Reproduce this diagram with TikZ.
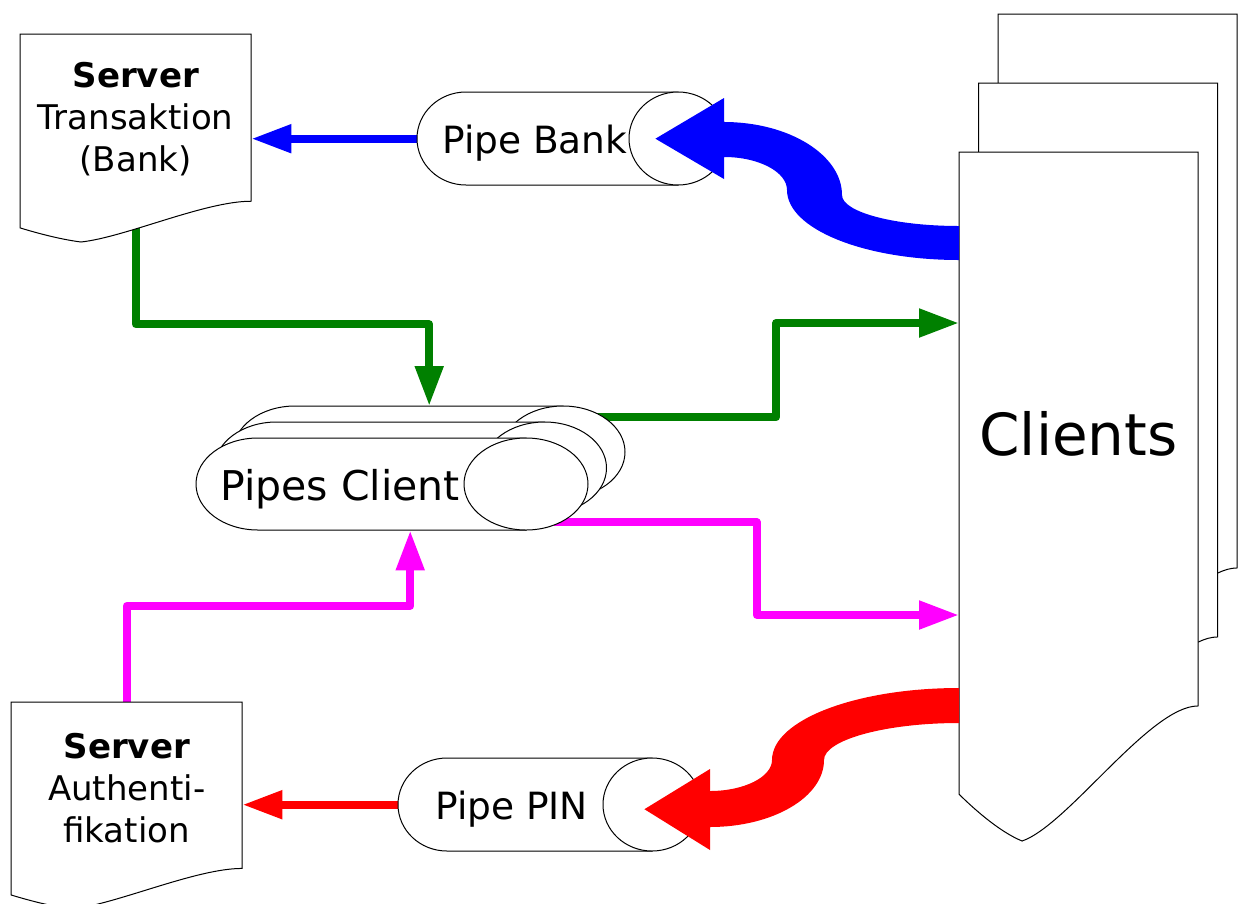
\documentclass[tikz,border=0pt]{standalone}
\usepackage{fontspec}
\setmainfont{DejaVu Sans}
\usetikzlibrary{arrows.meta, calc, positioning}
\pgfdeclarelayer{bg}
\pgfsetlayers{bg,main}

\definecolor{flowblue}{RGB}{0,0,255}
\definecolor{flowred}{RGB}{255,0,0}
\definecolor{flowgreen}{RGB}{0,128,0}
\definecolor{flowpink}{RGB}{255,0,255}

\tikzset{
  outline/.style={draw=black, fill=white, line width=1pt},
  thinflow/.style={line width=8pt, line join=round, -{Triangle[length=40pt, width=27pt]}},
  box/.style={inner sep=0pt, anchor=north west},
  doctext/.style={align=center, font=\fontsize{34}{42}\selectfont},
  pipetext/.style={inner sep=0pt, anchor=base west, font=\fontsize{37.5}{44}\selectfont},
}

% document outline: name, left x, top y, width, depth
\newcommand\docshape[5]{%
  \filldraw[outline] (#2,#3) -- ({#2+#4},#3) -- ({#2+#4},{#3+0.804*#5})
    .. controls ({#2+0.799*#4},{#3+0.804*#5}) and ({#2+0.456*#4},{#3+0.977*#5})
    .. ({#2+0.264*#4},{#3+#5})
    .. controls ({#2+0.172*#4},{#3+0.987*#5}) and ({#2+0.067*#4},{#3+0.955*#5})
    .. (#2,{#3+0.932*#5}) -- cycle;
  \node[box, minimum width=#4, minimum height=#5] (#1) at (#2,#3) {};
}

% pipe outline: name, left x, top y, width, height, cap radius
\newcommand\pipeshape[6]{%
  \filldraw[outline] ({#2+#4-#6},#3) -- ({#2+#6},#3)
    arc[start angle=90, end angle=270, x radius={#6*1pt}, y radius={#5*0.5pt}]
    -- ({#2+#4-#6},{#3+#5}) -- cycle;
  \filldraw[outline] ({#2+#4-#6},{#3+#5/2}) ellipse[x radius={#6*1pt}, y radius={#5*0.5pt}];
  \node[box, minimum width=#4, minimum height=#5] (#1) at (#2,#3) {};
}

\begin{document}
\begin{tikzpicture}[x=1pt, y=-1pt]
  \useasboundingbox (0,0) rectangle (1241,903);

  % Servers
  \docshape{bankdoc}{20}{34}{231}{208}
  \node[doctext, yshift=19pt] (banktext) at (bankdoc.center) {\textbf{Server}\\Transaktion\\(Bank)};
  \docshape{authdoc}{11}{702}{231}{207}
  \node[doctext, yshift=18pt] (authtext) at (authdoc.center) {\textbf{Server}\\Authenti-\\fikation};

  % Pipes
  \pipeshape{bankpipe}{417}{92}{310}{93}{49}
  \node[pipetext] (banklabel) at (442,153) {Pipe Bank};
  \pipeshape{pinpipe}{398}{758}{303}{93}{49}
  \node[pipetext] (pinlabel) at (435,819) {Pipe PIN};

  \pipeshape{pcback}{233}{406}{392}{92}{62}
  \pipeshape{pcmid}{214.5}{422}{392}{92}{62}
  \pipeshape{pcfront}{196}{438}{392}{92}{62}
  \node[pipetext, font=\fontsize{41}{48}\selectfont] (pclabel) at (220,500) {Pipes Client};

  % Clients stack
  \docshape{clientsback}{998}{14}{239}{689}
  \docshape{clientsmid}{978.5}{83}{239}{689}
  \docshape{clients}{959}{152}{239}{689}
  \node[font=\fontsize{58}{64}\selectfont, anchor=base] (clientslabel) at (1078.5,455) {Clients};

  % Thin connectors, behind the shapes
  \begin{pgfonlayer}{bg}
    \draw[thinflow, flowblue] (bankpipe.west) -- (bankpipe.west -| bankdoc.east);
    \draw[thinflow, flowred] (pinpipe.west) -- (pinpipe.west -| authdoc.east);
    \coordinate (bankbend) at ($(bankdoc.south)!0.5!(pcback.north)$);
    \draw[thinflow, flowgreen] (bankdoc.center) |- (bankbend) -| (pcback.north);
    \coordinate (greenout) at ([xshift=-32pt, yshift=35pt]pcback.east);
    \coordinate (greenin) at ([yshift=-171pt]clients.north west);
    \draw[thinflow, flowgreen] (greenout) -| ($(greenout)!0.5!(greenin)$) |- (greenin);
    \coordinate (authbend) at ($(authdoc.north)!0.56!(pcfront.south)$);
    \draw[thinflow, flowpink] (authdoc.center) |- (authbend) -| ([xshift=18pt]pcfront.south);
    \coordinate (pinkout) at ([xshift=-34pt, yshift=-38pt]pcfront.east);
    \coordinate (pinkin) at ([yshift=-463pt]clients.north west);
    \draw[thinflow, flowpink] (pinkout) -| ($(pinkout)!0.5!(pinkin)$) |- (pinkin);
  \end{pgfonlayer}

  % Thick curved arrows from the clients
  \fill[flowblue] ([yshift=-74pt]clients.north west)
    .. controls (894,226) and (842,212) .. (842,195)
    .. controls (842,155) and (789,122) .. (724,122)
    -- (724,98) -- ([xshift=-72pt]bankpipe.east) -- (724,179) -- (724,157)
    .. controls (759,157) and (787,172) .. (787,190)
    .. controls (787,229) and (864,260) .. (959,260) -- cycle;
  \fill[flowred] ([yshift=-536pt]clients.north west)
    .. controls (856,688) and (772,720) .. (772,760)
    .. controls (772,777) and (744,791) .. (710,791)
    -- (710,769) -- ([xshift=-57pt, yshift=-4.5pt]pinpipe.east) -- (710,850) -- (710,827)
    .. controls (773,827) and (824,797) .. (824,760)
    .. controls (824,740) and (885,723) .. (959,723) -- cycle;
\end{tikzpicture}
\end{document}
